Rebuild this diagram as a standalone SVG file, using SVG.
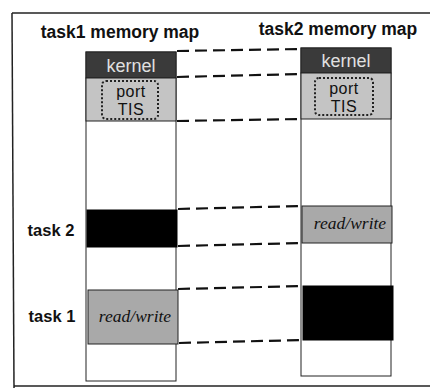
<svg xmlns="http://www.w3.org/2000/svg" width="430" height="390" viewBox="0 0 430 390">
<style>
.frame{stroke:#222;stroke-width:1.5;fill:none}
.title{font-family:"Liberation Sans",Arial,sans-serif;font-weight:bold;font-size:17.5px;fill:#111}
.lab{font-family:"Liberation Sans",Arial,sans-serif;font-weight:bold;font-size:16.5px;fill:#111}
.col{fill:#fff;stroke:#222;stroke-width:1}
.kern{fill:#3a3a3a;stroke:#222;stroke-width:1}
.port{fill:#c4c4c4;stroke:#222;stroke-width:1}
.rw{fill:#a9a9a9;stroke:#222;stroke-width:1}
.blk{fill:#000;stroke:#000;stroke-width:1}
.kt{font-family:"Liberation Sans",Arial,sans-serif;font-size:18px;fill:#e0e0e0;text-anchor:middle}
.pt{font-family:"Liberation Sans",Arial,sans-serif;font-size:16px;letter-spacing:0.5px;fill:#111;text-anchor:middle}
.dot{fill:none;stroke:#222;stroke-width:2;stroke-dasharray:2 2}
.rwt{font-family:"Liberation Serif","Times New Roman",serif;font-style:italic;font-size:17.5px;fill:#111;text-anchor:middle}
.dash{stroke:#111;stroke-width:2.2;stroke-dasharray:12 6;fill:none}
</style>
<g id="frame">
<line class="frame" x1="12" y1="13" x2="430" y2="13"/>
<line class="frame" x1="12" y1="13" x2="14" y2="388"/>
<line class="frame" x1="14" y1="386" x2="430" y2="386"/>
</g>
<g id="titles">
<text class="title" x="120" y="38" text-anchor="middle">task1 memory map</text>
<text class="title" x="338" y="35" text-anchor="middle">task2 memory map</text>
</g>
<g id="labels">
<text class="lab" x="51" y="236" text-anchor="middle">task 2</text>
<text class="lab" x="52" y="322" text-anchor="middle">task 1</text>
</g>
<g id="connectors">
<line class="dash" x1="177" y1="51" x2="301" y2="49"/>
<line class="dash" x1="177" y1="77" x2="301" y2="74"/>
<line class="dash" x1="177" y1="121" x2="301" y2="119"/>
<line class="dash" x1="178" y1="209" x2="302" y2="206"/>
<line class="dash" x1="178" y1="246" x2="302" y2="243"/>
<line class="dash" x1="178" y1="289" x2="303" y2="286"/>
<line class="dash" x1="179" y1="343" x2="303" y2="340"/>
</g>
<g id="task1-map">
<rect class="col" x="86" y="52" width="90" height="329"/>
<rect class="kern" x="86" y="52" width="90" height="26"/>
<text class="kt" x="131" y="72">kernel</text>
<rect class="port" x="86" y="78" width="90" height="43"/>
<rect class="dot" x="102" y="81" width="56" height="38" rx="4"/>
<text class="pt" x="131" y="97">port</text>
<text class="pt" x="131" y="115">TIS</text>
<rect class="blk" x="87" y="210" width="90" height="37"/>
<rect class="rw" x="88" y="290" width="90" height="54"/>
<text class="rwt" x="135" y="322">read/write</text>
</g>
<g id="task2-map">
<rect class="col" x="301" y="48" width="90" height="328"/>
<rect class="kern" x="301" y="48" width="90" height="25"/>
<text class="kt" x="346" y="67">kernel</text>
<rect class="port" x="301" y="73" width="90" height="46"/>
<rect class="dot" x="315" y="78" width="58" height="37" rx="4"/>
<text class="pt" x="344" y="94">port</text>
<text class="pt" x="344" y="112">TIS</text>
<rect class="rw" x="302" y="206" width="90" height="37"/>
<text class="rwt" x="350" y="229">read/write</text>
<rect class="blk" x="303" y="286" width="90" height="54"/>
</g>
</svg>
